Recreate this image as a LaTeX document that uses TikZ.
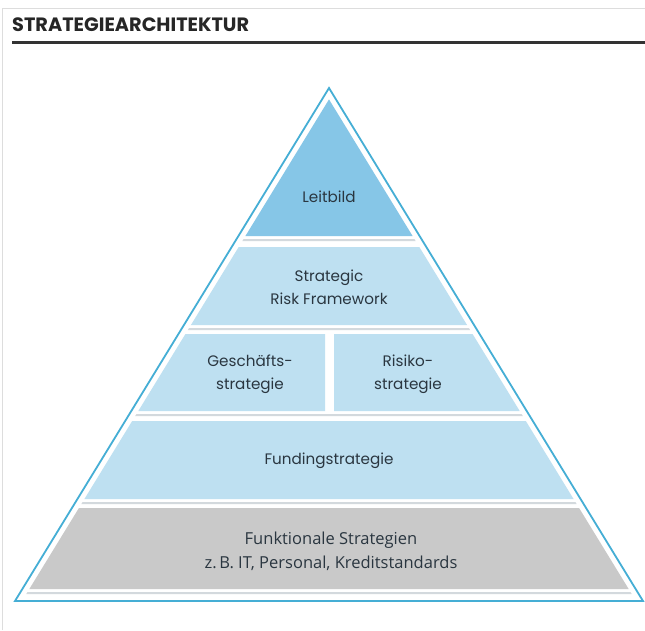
\documentclass[tikz,border=0pt]{standalone}
\usepackage{fontspec}
\setmainfont{Poppins}
\newfontfamily\geofont{Poppins}
\newfontfamily\humfont{Open Sans}
\definecolor{outline}{HTML}{45AED5}
\definecolor{topblue}{HTML}{86C6E7}
\definecolor{lightblue}{HTML}{BEE0F1}
\definecolor{greyfill}{HTML}{C9C9C9}
\definecolor{stripe}{HTML}{D3D9DD}
\definecolor{txt}{HTML}{2A3640}
\definecolor{frame}{HTML}{DDDDDD}
\newcommand{\pyrband}[3]{%
  \fill[#3] ({336-0.61209*(#1-88)},#1) -- ({322+0.61209*(#1-88)},#1)
    -- ({322+0.61209*(#2-88)},#2) -- ({336-0.61209*(#2-88)},#2) -- cycle;}
\tikzset{
  lbl/.style={font=\geofont\fontsize{15.2}{23}\selectfont, text=txt, align=center, inner sep=0pt},
  lblhum/.style={font=\humfont\fontsize{16.5}{24}\selectfont, text=txt, align=center, inner sep=0pt},
}
\begin{document}
\begin{tikzpicture}[x=1pt,y=-1pt]
\useasboundingbox (0,0) rectangle (645,630);
\fill[white] (0,0) rectangle (645,630);
% card frame
\draw[frame, line width=0.8pt] (2,630) -- (2,8) -- (645,8);
% title
\node[anchor=base west, inner sep=0pt, font=\geofont\bfseries\fontsize{19.3}{21}\selectfont, text=black!85] (title) at (12,31) {STRATEGIEARCHITEKTUR};
\draw[black!80, line width=3pt] (12,42) -- (645,42);
% outer triangle
\draw[outline, line width=1.8pt, line join=miter, miter limit=20] (329,88) -- (643,601) -- (15,601) -- cycle;
% top triangle
\fill[topblue] (329,99.4) -- ({322+0.61209*(236-88)},236) -- ({336-0.61209*(236-88)},236) -- cycle;
\pyrband{239}{241}{stripe}
% Strategic Risk Framework
\pyrband{247}{325}{lightblue}
\pyrband{328}{330}{stripe}
% split layer
\fill[lightblue] ({336-0.61209*(334-88)},334) -- (325,334) -- (325,411) -- ({336-0.61209*(411-88)},411) -- cycle;
\fill[lightblue] (334,334) -- ({322+0.61209*(334-88)},334) -- ({322+0.61209*(411-88)},411) -- (334,411) -- cycle;
\pyrband{414}{416}{stripe}
% Funding
\pyrband{421}{499}{lightblue}
\pyrband{502}{504}{stripe}
% functional
\pyrband{508}{589}{greyfill}
\pyrband{592}{594}{stripe}
% labels
\node[lbl] (leitbild) at (329,197) {Leitbild};
\node[lbl] (srf) at (329,287) {Strategic\\Risk Framework};
\node[lbl] (gs) at (250,374) {Geschäfts-\\strategie};
\node[lbl] (rs) at (408,374) {Risiko-\\strategie};
\node[lbl] (fund) at (329,461) {Fundingstrategie};
\node[lblhum] (funk) at (331,551) {Funktionale Strategien\\z.\,B. IT, Personal, Kreditstandards};
\end{tikzpicture}
\end{document}
